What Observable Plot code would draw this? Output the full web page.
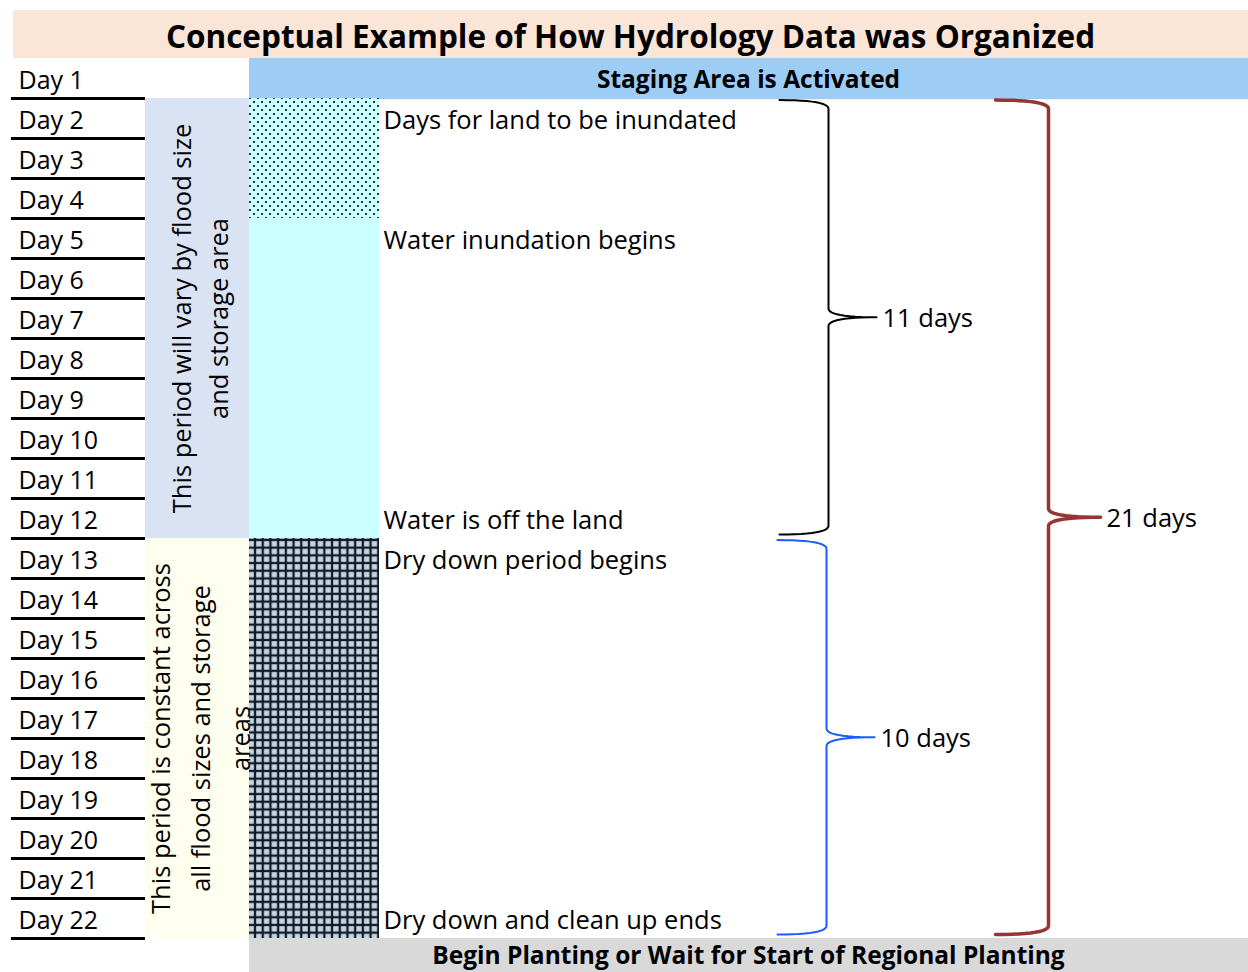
<!DOCTYPE html>
<html><head><meta charset="utf-8">
<script src="https://cdn.jsdelivr.net/npm/d3@7"></script>
<script src="https://cdn.jsdelivr.net/npm/@observablehq/plot@0.6"></script>
<style>body{margin:0;background:#fff}#chart svg{display:block}</style>
</head><body><div id="chart"></div>
<script>
// ---- data ----
const title = "Conceptual Example of How Hydrology Data was Organized";
const dayNumbers = [1,2,3,4,5,6,7,8,9,10,11,12,13,14,15,16,17,18,19,20,21,22];
const dayLabels = ["Day 1","Day 2","Day 3","Day 4","Day 5","Day 6","Day 7","Day 8","Day 9","Day 10","Day 11","Day 12","Day 13","Day 14","Day 15","Day 16","Day 17","Day 18","Day 19","Day 20","Day 21","Day 22"];
const bandLabels = ["Staging Area is Activated","Begin Planting or Wait for Start of Regional Planting"];
const bandDays = [1, 23];
const periodLabels = ["This period will vary by flood size\nand storage area","This period is constant across\nall flood sizes and storage\nareas"];
const periodStart = [2, 13];
const periodEnd = [12, 22];
const stageNames = ["inundating","inundated","drydown"];
const stageStart = [2, 5, 13];
const stageEnd = [4, 12, 22];
const noteTexts = ["Days for land to be inundated","Water inundation begins","Water is off the land","Dry down period begins","Dry down and clean up ends"];
const noteDays = [2, 5, 12, 13, 22];
const bracketLabels = ["11 days","10 days","21 days"];
const bracketStart = [2, 13, 2];
const bracketEnd = [12, 22, 22];

// ---- tables ----
const days = dayNumbers.map((d,i)=>({day:d,label:dayLabels[i]}));
const bands = bandLabels.map((l,i)=>({label:l,day:bandDays[i]}));
const periods = periodLabels.map((l,i)=>({label:l,start:periodStart[i],end:periodEnd[i]}));
const stages = stageNames.map((n,i)=>({name:n,start:stageStart[i],end:stageEnd[i]}));
const notes = noteTexts.map((t,i)=>({text:t,day:noteDays[i]}));
const brackets = bracketLabels.map((l,i)=>({label:l,start:bracketStart[i],end:bracketEnd[i]}));

// ---- styling / layout ----
const FONT = "Open Sans";
const FS = 25.5;
const periodFill = ["#dae3f3","#fffff0"];
const periodLineHeight = [1.45, 1.57];
const stageFill = {inundating:"url(#dots)", inundated:"#ccffff", drydown:"url(#grid)"};
const bracketStyle = [
  {x0:779, xv:828, xt:876, stroke:"#000000", w:2},
  {x0:777, xv:826, xt:874, stroke:"#1a5dff", w:2},
  {x0:995, xv:1048, xt:1100, stroke:"#963634", w:3.5}
];

function quad(p0,c,p2,n,out){
  for(let k=0;k<=n;k++){const t=k/n,a=(1-t)*(1-t),b=2*(1-t)*t,e=t*t;
    out.push({x:a*p0[0]+b*c[0]+e*p2[0], y:a*p0[1]+b*c[1]+e*p2[1]});}
}
function bracePoints(b, s){
  const top=b.start+0.04, bot=b.end+1-0.1, mid=(top+bot)/2, r=0.22, pts=[];
  quad([s.x0,top],[s.xv,top],[s.xv,top+r],12,pts);
  quad([s.xv,mid-r],[s.xv,mid],[s.xt,mid],12,pts);
  quad([s.xt,mid],[s.xv,mid],[s.xv,mid+r],12,pts);
  quad([s.xv,bot-r],[s.xv,bot],[s.x0,bot],12,pts);
  return pts;
}

const marks = [
  // title band
  Plot.rect([title], {x1:13, x2:1248, y1:-0.2, y2:1, fill:"#fbe5d6"}),
  Plot.text([title], {x:630, y:0.48, text:d=>d, fontSize:31.5, fontWeight:"bold", fontFamily:FONT, fill:"#000"}),
  // header / footer bands
  Plot.rect(bands, {x1:249, x2:1248, y1:"day", y2:d=>d.day===23?24:d.day+1.03, fill:(d,i)=>i===0?"#9dcdf5":"#d9d9d9"}),
  Plot.text(bands, {x:748, y:d=>d.day===23?d.day+0.45:d.day+0.55, text:"label", fontSize:24.5, fontWeight:"bold", fontFamily:FONT, fill:"#000"}),
  // period blocks
  Plot.rect(periods, {x1:145, x2:249, y1:"start", y2:d=>d.end+1, fill:(d,i)=>periodFill[i]}),
  // stage blocks
  Plot.rect(stages, {x1:249, x2:379, y1:"start", y2:d=>d.end+1, fill:d=>stageFill[d.name]}),
  ...periods.map((p,i)=>Plot.text([p], {x:197, y:d=>(d.start+d.end+1)/2, text:"label", rotate:-90, fontSize:FS, lineHeight:periodLineHeight[i], fontFamily:FONT, fill:"#000"})),
  // day labels and underlines
  Plot.text(days, {x:18, y:d=>d.day+0.55, text:"label", textAnchor:"start", fontSize:FS-0.5, fontFamily:FONT, fill:"#000"}),
  Plot.ruleY(days, {y:d=>d.day+1, x1:11, x2:145, stroke:"#000", strokeWidth:3}),
  // notes
  Plot.text(notes, {x:383, y:d=>d.day+0.55, text:"text", textAnchor:"start", fontSize:FS, fontFamily:FONT, fill:"#000"}),
  // brackets
  ...brackets.map((b,i)=>Plot.line(bracePoints(b, bracketStyle[i]), {x:"x", y:"y", stroke:bracketStyle[i].stroke, strokeWidth:bracketStyle[i].w, curve:"linear"})),
  Plot.text(brackets, {x:(d,i)=>bracketStyle[i].xt+6, y:d=>(d.start+0.04+d.end+0.9)/2+0.05, text:"label", textAnchor:"start", fontSize:FS, fontFamily:FONT, fill:"#000"})
];

const svg = Plot.plot({
  width:1248, height:972,
  marginTop:0, marginRight:0, marginBottom:0, marginLeft:0,
  x:{domain:[0,1248], range:[0,1248], axis:null},
  y:{domain:[-0.45,23.85], range:[0,972], axis:null},
  style:{fontFamily:FONT, background:"#fff"},
  marks
});

// patterns
const defs = d3.select(svg).insert("defs", ":first-child");
const dots = defs.append("pattern").attr("id","dots").attr("patternUnits","userSpaceOnUse").attr("width",8).attr("height",8);
dots.append("rect").attr("width",8).attr("height",8).attr("fill","#ccffff");
dots.append("rect").attr("x",1).attr("y",1).attr("width",2).attr("height",2).attr("fill","#1e3c3c");
dots.append("rect").attr("x",5).attr("y",5).attr("width",2).attr("height",2).attr("fill","#1e3c3c");
const grid = defs.append("pattern").attr("id","grid").attr("patternUnits","userSpaceOnUse").attr("width",7.7).attr("height",7.7);
grid.append("rect").attr("width",7.7).attr("height",7.7).attr("fill","#121a2a");
grid.append("rect").attr("x",2.1).attr("y",2.1).attr("width",5.4).attr("height",5.4).attr("fill","#c6d6e0");

document.getElementById("chart").appendChild(svg);
</script></body></html>
